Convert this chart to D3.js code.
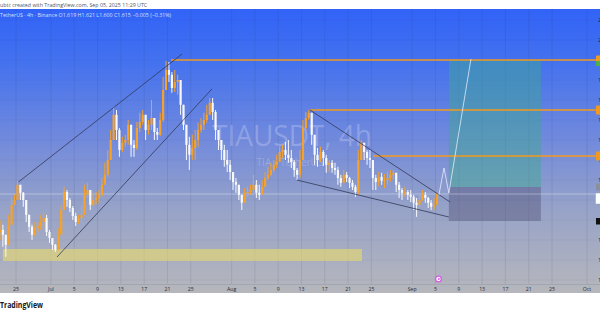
<!DOCTYPE html>
<html><head><meta charset="utf-8">
<script src="https://cdn.jsdelivr.net/npm/d3@7"></script>
<style>html,body{margin:0;padding:0;background:#fff;overflow:hidden}svg{display:block;font-family:"Open Sans",Roboto,"DejaVu Sans",sans-serif}</style>
</head><body><svg id="c" width="600" height="315"></svg>
<script>
// ---- data (TIA/USDT, 12h-aggregated candles) ----
const startDate = "2025-06-22T00:00:00Z";
const candleHours = 12;
const closes = [1.525,1.513,1.488,1.538,1.588,1.600,1.638,1.618,1.600,1.563,1.533,1.513,1.530,1.535,1.545,1.555,1.520,1.505,1.488,1.475,
1.513,1.575,1.620,1.600,1.580,1.560,1.545,1.555,1.563,1.613,1.625,1.588,1.600,1.605,1.613,1.638,1.663,1.700,1.750,1.813,
1.775,1.725,1.743,1.750,1.788,1.738,1.730,1.780,1.795,1.813,1.775,1.788,1.805,1.770,1.763,1.800,1.875,1.925,1.913,1.880,
1.895,1.900,1.838,1.788,1.738,1.713,1.730,1.750,1.775,1.788,1.800,1.813,1.843,1.820,1.775,1.750,1.725,1.700,1.688,1.670,
1.645,1.638,1.613,1.593,1.618,1.620,1.625,1.638,1.618,1.613,1.633,1.655,1.663,1.675,1.688,1.695,1.720,1.725,1.713,1.705,
1.695,1.675,1.663,1.700,1.780,1.805,1.818,1.763,1.713,1.700,1.720,1.705,1.688,1.693,1.680,1.675,1.655,1.643,1.663,1.655,
1.643,1.633,1.620,1.700,1.743,1.720,1.705,1.700,1.655,1.645,1.658,1.648,1.650,1.655,1.663,1.668,1.638,1.625,1.618,1.620,
1.613,1.608,1.593,1.588,1.600,1.613,1.605,1.593,1.583,1.588,1.615];
const highs = [1.550,1.538,1.513,1.563,1.605,1.613,1.648,1.638,1.620,1.588,1.563,1.538,1.545,1.545,1.563,1.568,1.563,1.525,1.505,1.490,
1.530,1.588,1.633,1.625,1.605,1.585,1.568,1.563,1.588,1.638,1.643,1.613,1.618,1.620,1.625,1.655,1.693,1.725,1.775,1.833,
1.825,1.780,1.758,1.763,1.800,1.788,1.750,1.795,1.818,1.825,1.813,1.800,1.850,1.800,1.780,1.818,1.908,1.948,1.945,1.920,
1.925,1.913,1.900,1.838,1.788,1.758,1.763,1.775,1.793,1.805,1.818,1.838,1.855,1.855,1.825,1.775,1.750,1.738,1.725,1.700,
1.663,1.655,1.638,1.613,1.630,1.633,1.638,1.663,1.650,1.638,1.650,1.670,1.683,1.693,1.700,1.713,1.733,1.738,1.745,1.750,
1.725,1.700,1.680,1.725,1.800,1.820,1.825,1.813,1.763,1.730,1.733,1.725,1.713,1.700,1.700,1.693,1.683,1.663,1.675,1.670,
1.658,1.650,1.638,1.725,1.750,1.738,1.725,1.725,1.688,1.663,1.670,1.668,1.665,1.670,1.675,1.675,1.655,1.645,1.630,1.633,
1.625,1.625,1.613,1.605,1.618,1.625,1.620,1.608,1.600,1.605,1.618];
const lows = [1.500,1.483,1.458,1.500,1.563,1.588,1.605,1.600,1.583,1.545,1.520,1.500,1.510,1.520,1.525,1.530,1.510,1.493,1.475,1.470,
1.475,1.513,1.575,1.583,1.570,1.550,1.535,1.540,1.545,1.563,1.605,1.575,1.585,1.590,1.593,1.608,1.643,1.658,1.700,1.750,
1.750,1.708,1.720,1.733,1.738,1.708,1.708,1.725,1.770,1.788,1.750,1.763,1.775,1.750,1.750,1.760,1.795,1.875,1.895,1.868,
1.870,1.863,1.813,1.775,1.700,1.675,1.700,1.700,1.733,1.768,1.775,1.793,1.813,1.800,1.750,1.725,1.700,1.683,1.670,1.650,
1.625,1.618,1.600,1.575,1.600,1.608,1.613,1.618,1.605,1.600,1.618,1.638,1.650,1.660,1.670,1.680,1.695,1.705,1.700,1.693,
1.680,1.658,1.650,1.655,1.700,1.775,1.800,1.738,1.688,1.683,1.695,1.685,1.668,1.670,1.668,1.663,1.638,1.633,1.645,1.645,
1.630,1.625,1.608,1.613,1.713,1.700,1.688,1.680,1.625,1.625,1.635,1.638,1.630,1.638,1.645,1.650,1.620,1.605,1.600,1.608,
1.600,1.595,1.575,1.558,1.580,1.598,1.593,1.580,1.575,1.575,1.588];
const firstOpen = 1.520;

const tickDates = ["2025-06-25","2025-07-01","2025-07-05","2025-07-09","2025-07-13","2025-07-17","2025-07-21","2025-07-25",
"2025-08-01","2025-08-05","2025-08-09","2025-08-13","2025-08-17","2025-08-21","2025-08-25",
"2025-09-01","2025-09-05","2025-09-09","2025-09-13","2025-09-17","2025-09-21","2025-09-25","2025-10-01"];
const tickLabels = ["25","Jul","5","9","13","17","21","25","Aug","5","9","13","17","21","25","Sep","5","9","13","17","21","25","Oct"];
const priceTicks = [1.40,1.45,1.50,1.55,1.60,1.65,1.70,1.75,1.80,1.85,1.90,1.95,2.00,2.05];

const levelPrices = [1.950,1.825,1.710];
const levelStarts = ["2025-07-21T14:00:00Z","2025-08-14T11:00:00Z","2025-08-25T07:00:00Z"];

// trend lines: [startDate, startPrice, endDate, endPrice]
const trendLines = [
  ["2025-06-25T10:00:00Z",1.645,"2025-07-23T12:00:00Z",1.965],
  ["2025-07-02T01:00:00Z",1.4575,"2025-07-28T15:00:00Z",1.8775],
  ["2025-08-14T11:00:00Z",1.825,"2025-09-07T12:00:00Z",1.595],
  ["2025-08-12T05:00:00Z",1.650,"2025-09-07T07:00:00Z",1.5575]
];
const zoneDates = ["2025-06-22T18:00:00Z","2025-08-23T09:00:00Z"];
const zonePrices = [1.4775,1.4475];
const posDates = ["2025-09-07T07:00:00Z","2025-09-23T02:00:00Z"];
const posTarget = 1.950, posEntry = 1.6325, posStop = 1.5475;
const projDates = ["2025-09-05T14:00:00Z","2025-09-06T11:00:00Z","2025-09-07T07:00:00Z","2025-09-11T02:00:00Z"];
const projPrices = [1.6125,1.680,1.6175,1.9525];
const lastPrice = 1.615;

// ---- drawing ----
const W = 600, H = 315, plotTop = 9, plotBottom = 284, axisBottom = 293, plotRight = 596;
const svg = d3.select("#c");
const P = d => new Date(d);
const x = d3.scaleTime().domain([P("2025-06-25T00:00:00Z"), P("2025-10-01T00:00:00Z")]).range([16, 587]);
const y = d3.scaleLinear().domain([2.1, 1.3]).range([0, 320]);

const defs = svg.append("defs");
const g = defs.append("linearGradient").attr("id","bg").attr("x1",0).attr("y1",0).attr("x2",0).attr("y2",1);
[[0,"#3163f7"],[0.18,"#4371ef"],[0.45,"#7089dd"],[0.7,"#96a2c8"],[1,"#b6b7bc"]].forEach(s=>g.append("stop").attr("offset",s[0]).attr("stop-color",s[1]));
defs.append("clipPath").attr("id","clip").append("rect").attr("x",0).attr("y",plotTop).attr("width",plotRight).attr("height",plotBottom-plotTop);

svg.append("rect").attr("width",W).attr("height",H).attr("fill","#fff");
svg.append("rect").attr("x",0).attr("y",plotTop).attr("width",W).attr("height",axisBottom-plotTop).attr("fill","url(#bg)");

// grid
const tickD = tickDates.map(d=>P(d+"T00:00:00Z"));
svg.append("g").selectAll("line").data(tickD).join("line")
  .attr("x1",d=>x(d)).attr("x2",d=>x(d)).attr("y1",plotTop).attr("y2",plotBottom)
  .attr("stroke","rgba(40,50,90,0.10)").attr("stroke-width",1);
svg.append("g").selectAll("line").data(priceTicks).join("line")
  .attr("x1",0).attr("x2",plotRight).attr("y1",d=>y(d)).attr("y2",d=>y(d))
  .attr("stroke","rgba(40,50,90,0.05)").attr("stroke-width",1);
svg.append("line").attr("x1",0).attr("x2",W).attr("y1",plotBottom+0.5).attr("y2",plotBottom+0.5).attr("stroke","rgba(60,60,80,0.12)");

const plot = svg.append("g").attr("clip-path","url(#clip)");

// watermark
plot.append("text").attr("x",292).attr("y",146).attr("text-anchor","middle").attr("font-size",30)
  .attr("fill","rgba(255,255,255,0.22)").attr("textLength",160).attr("lengthAdjust","spacingAndGlyphs").text("TIAUSDT, 4h");
plot.append("text").attr("x",290).attr("y",166).attr("text-anchor","middle").attr("font-size",10)
  .attr("fill","rgba(255,255,255,0.22)").text("TIA / TetherUS");

// yellow zone
plot.append("rect").attr("x",x(P(zoneDates[0]))).attr("y",y(zonePrices[0]))
  .attr("width",x(P(zoneDates[1]))-x(P(zoneDates[0]))).attr("height",y(zonePrices[1])-y(zonePrices[0]))
  .attr("fill","rgba(232,218,110,0.62)");

// position boxes
const px0 = x(P(posDates[0])), px1 = x(P(posDates[1]));
plot.append("rect").attr("x",px0).attr("y",y(posTarget)).attr("width",px1-px0).attr("height",y(posEntry)-y(posTarget))
  .attr("fill","rgba(60,170,140,0.45)");
plot.append("rect").attr("x",px0).attr("y",y(posEntry)).attr("width",px1-px0).attr("height",y(posStop)-y(posEntry))
  .attr("fill","rgba(85,85,120,0.45)");

// last price line
plot.append("line").attr("x1",0).attr("x2",plotRight).attr("y1",y(lastPrice)).attr("y2",y(lastPrice))
  .attr("stroke","rgba(255,255,255,0.35)").attr("stroke-width",1);

// candles
const t0 = P(startDate).getTime();
const candles = closes.map((c,i)=>{
  const o = i===0 ? firstOpen : closes[i-1];
  return {t:new Date(t0 + (i*candleHours + candleHours/2)*3600e3), o, c, h:Math.max(highs[i],o,c), l:Math.min(lows[i],o,c)};
});
const col = d => d.c >= d.o ? "#f6a12a" : "#f7f8fc";
const cg = plot.append("g");
cg.selectAll("line").data(candles).join("line")
  .attr("x1",d=>x(d.t)).attr("x2",d=>x(d.t)).attr("y1",d=>y(d.h)).attr("y2",d=>y(d.l))
  .attr("stroke",col).attr("stroke-width",1);
cg.selectAll("rect").data(candles).join("rect")
  .attr("x",d=>x(d.t)-1.1).attr("width",2.2)
  .attr("y",d=>y(Math.max(d.o,d.c))).attr("height",d=>Math.max(1,Math.abs(y(d.o)-y(d.c))))
  .attr("fill",col);

// orange levels
plot.selectAll(".lvl").data(levelPrices).join("line").attr("class","lvl")
  .attr("x1",(d,i)=>x(P(levelStarts[i]))).attr("x2",plotRight).attr("y1",d=>y(d)).attr("y2",d=>y(d))
  .attr("stroke","#f39a1e").attr("stroke-width",1.3);

// trend lines
plot.selectAll(".tl").data(trendLines).join("line").attr("class","tl")
  .attr("x1",d=>x(P(d[0]))).attr("y1",d=>y(d[1])).attr("x2",d=>x(P(d[2]))).attr("y2",d=>y(d[3]))
  .attr("stroke","#2f3550").attr("stroke-opacity",0.85).attr("stroke-width",0.9);

// projection path
const proj = projDates.map((d,i)=>[x(P(d)), y(projPrices[i])]);
plot.append("path").attr("d",d3.line()(proj)).attr("fill","none").attr("stroke","rgba(235,240,255,0.75)").attr("stroke-width",1);

// price axis labels (mostly clipped by the image edge, as in the reference)
const pa = svg.append("g");
pa.selectAll("text").data(priceTicks).join("text").attr("x",598).attr("y",d=>y(d)+2).attr("font-size",5.5)
  .attr("fill","#1f2433").text(d=>d.toFixed(3));
levelPrices.forEach(p=>{
  pa.append("rect").attr("x",596).attr("y",y(p)-4.5).attr("width",10).attr("height",9).attr("rx",1).attr("fill","#f39a1e");
});
pa.append("rect").attr("x",596).attr("y",y(levelPrices[0])+1).attr("width",10).attr("height",5).attr("fill","#4caf50");
pa.append("rect").attr("x",596).attr("y",y(posEntry)-3.5).attr("width",10).attr("height",7).attr("fill","#8a8f9c");
pa.append("rect").attr("x",595.5).attr("y",y(lastPrice)-1).attr("width",10).attr("height",11).attr("fill","#ffffff").attr("stroke","#9aa0b0").attr("stroke-width",0.5);
pa.append("rect").attr("x",596).attr("y",y(posStop)-3).attr("width",10).attr("height",6.5).attr("fill","#111");

// time axis
svg.append("g").selectAll("text").data(tickD).join("text")
  .attr("x",d=>x(d)).attr("y",290.5).attr("text-anchor","middle").attr("font-size",5.2)
  .attr("fill","#2a2e39").text((d,i)=>tickLabels[i]);

// event icon
const ex = x(P("2025-09-05T12:00:00Z"));
svg.append("circle").attr("cx",ex).attr("cy",279).attr("r",3.6).attr("fill","#d45ae6");
svg.append("circle").attr("cx",ex).attr("cy",279).attr("r",2.2).attr("fill","#fff");
svg.append("circle").attr("cx",ex+0.4).attr("cy",279).attr("r",1).attr("fill","#d45ae6");

// header texts
svg.append("text").attr("x",0).attr("y",6.8).attr("font-size",5.3).attr("fill","#50535e")
  .text("ubtc created with TradingView.com, Sep 05, 2025 11:29 UTC");
svg.append("text").attr("x",0).attr("y",16.8).attr("font-size",5.3).attr("fill","rgba(235,240,255,0.9)")
  .text("TetherUS · 4h · Binance  O1.619  H1.621  L1.600  C1.615  −0.005 (−0.31%)");

// footer logo text
svg.append("text").attr("x",0).attr("y",308).attr("font-size",8.5).attr("font-weight",700).attr("fill","#131722")
  .attr("textLength",43).attr("lengthAdjust","spacingAndGlyphs").text("TradingView");
</script></body></html>
